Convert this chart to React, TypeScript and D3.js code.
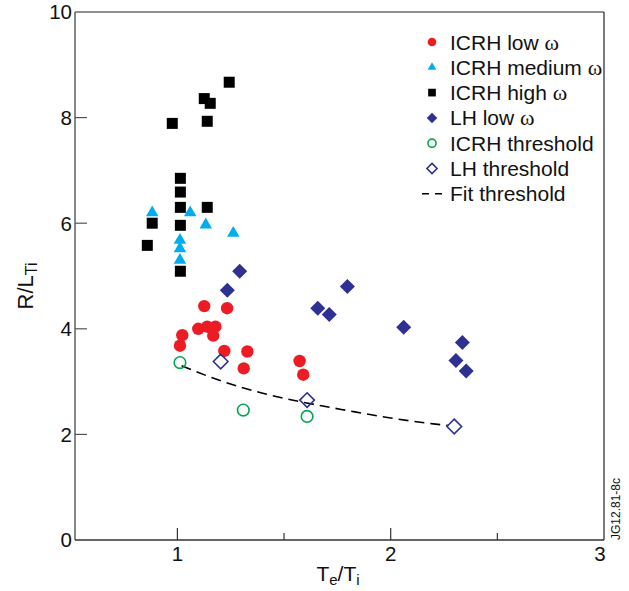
import React from "react";
import * as d3 from "d3";

// ---- data ----
const icrhLowX = [1.126, 1.233, 1.098, 1.14, 1.178, 1.168, 1.023, 1.012, 1.22, 1.328, 1.311, 1.573, 1.59];
const icrhLowY = [4.43, 4.39, 4.0, 4.04, 4.04, 3.87, 3.88, 3.68, 3.58, 3.57, 3.25, 3.39, 3.13];

const icrhMedX = [0.882, 1.06, 1.133, 1.262, 1.012, 1.012, 1.012];
const icrhMedY = [6.2, 6.2, 5.97, 5.81, 5.68, 5.52, 5.3];

const icrhHighX = [1.243, 1.126, 1.154, 0.976, 1.14, 1.014, 1.014, 1.014, 1.14, 0.882, 1.014, 0.859, 1.014];
const icrhHighY = [8.67, 8.36, 8.27, 7.89, 7.93, 6.85, 6.59, 6.3, 6.3, 6.0, 5.96, 5.58, 5.09];

const lhLowX = [1.292, 1.234, 1.797, 1.658, 1.712, 2.061, 2.336, 2.306, 2.354];
const lhLowY = [5.09, 4.73, 4.8, 4.39, 4.27, 4.03, 3.74, 3.4, 3.2];

const icrhThrX = [1.012, 1.309, 1.608];
const icrhThrY = [3.36, 2.46, 2.34];

const lhThrX = [1.203, 1.608, 2.298];
const lhThrY = [3.38, 2.65, 2.15];

const fitX = [1.02, 1.2, 1.4, 1.6, 1.8, 2.0, 2.2, 2.27];
const fitY = [3.3, 3.02, 2.78, 2.6, 2.45, 2.31, 2.2, 2.17];

const xTicks = [1, 2, 3];
const xMinorTicks = [1.5, 2.5];
const yTicks = [0, 2, 4, 6, 8, 10];

const legendLabels = ["ICRH low ", "ICRH medium ", "ICRH high ", "LH low ", "ICRH threshold", "LH threshold", "Fit threshold"];
const legendOmega = [true, true, true, true, false, false, false];

// ---- layout ----
const W = 629;
const H = 591;
const left = 75;
const right = 604;
const top = 12;
const bottom = 540;

const RED = "#ed1c24";
const CYAN = "#00aeef";
const NAVY = "#2e3192";
const GREEN = "#00a651";
const FONT = "'Liberation Sans', Arial, Helvetica, sans-serif";

const zip = (xs: number[], ys: number[]) => xs.map((x, i) => [x, ys[i]] as [number, number]);

const diamondPath = (r: number) => `M0,${-r}L${r},0L0,${r}L${-r},0Z`;
const squarePath = (s: number) => `M${-s / 2},${-s / 2}h${s}v${s}h${-s}Z`;
const trianglePath = (s: number) => {
  const h = (s * Math.sqrt(3)) / 2;
  return `M0,${(-2 * h) / 3}L${s / 2},${h / 3}L${-s / 2},${h / 3}Z`;
};

type Kind = "circle" | "tri" | "square" | "diamond" | "ocircle" | "odiamond";

function Marker({ kind, x, y, scale = 1 }: { kind: Kind; x: number; y: number; scale?: number }) {
  const t = `translate(${x},${y})`;
  switch (kind) {
    case "circle":
      return <circle cx={x} cy={y} r={6.2 * scale} fill={RED} />;
    case "tri":
      return <path transform={t} d={trianglePath(12.5 * scale)} fill={CYAN} />;
    case "square":
      return <path transform={t} d={squarePath(11 * scale)} fill="#000" />;
    case "diamond":
      return <path transform={t} d={diamondPath(7.5 * scale)} fill={NAVY} />;
    case "ocircle":
      return <circle cx={x} cy={y} r={5.8 * scale} fill="none" stroke={GREEN} strokeWidth={1.6} />;
    case "odiamond":
      return <path transform={t} d={diamondPath(7.3 * scale)} fill="none" stroke={NAVY} strokeWidth={1.6} />;
  }
}

export default function App() {
  const x = d3.scaleLinear().domain([0.52, 3]).range([left, right]);
  const y = d3.scaleLinear().domain([0, 10]).range([bottom, top]);

  const fitLine = d3
    .line<[number, number]>()
    .x((d) => x(d[0]))
    .y((d) => y(d[1]))
    .curve(d3.curveMonotoneX);

  const series: { kind: Kind; pts: [number, number][] }[] = [
    { kind: "square", pts: zip(icrhHighX, icrhHighY) },
    { kind: "tri", pts: zip(icrhMedX, icrhMedY) },
    { kind: "circle", pts: zip(icrhLowX, icrhLowY) },
    { kind: "diamond", pts: zip(lhLowX, lhLowY) },
    { kind: "ocircle", pts: zip(icrhThrX, icrhThrY) },
    { kind: "odiamond", pts: zip(lhThrX, lhThrY) },
  ];

  const legendKinds: (Kind | "dash")[] = ["circle", "tri", "square", "diamond", "ocircle", "odiamond", "dash"];
  const legX = 432;
  const legY0 = 42;
  const legDy = 25.3;

  return (
    <svg
      width={W}
      height={H}
      style={{ position: "absolute", left: 0, top: 0, background: "#fff" }}
      fontFamily={FONT}
    >
      <rect width={W} height={H} fill="#fff" />

      {/* fit line */}
      <path
        d={fitLine(zip(fitX, fitY)) || ""}
        fill="none"
        stroke="#000"
        strokeWidth={1.6}
        strokeDasharray="10,6"
      />

      {/* markers */}
      {series.map((s, si) =>
        s.pts.map((p, i) => <Marker key={`${si}-${i}`} kind={s.kind} x={x(p[0])} y={y(p[1])} />)
      )}

      {/* frame */}
      <line x1={left} x2={right} y1={top} y2={top} stroke="#222" strokeWidth={1.2} />
      <line x1={right} x2={right} y1={top} y2={bottom} stroke="#222" strokeWidth={1.2} />
      <line x1={left} x2={left} y1={top} y2={bottom} stroke="#555" strokeWidth={1.4} />
      <line x1={left} x2={right} y1={bottom} y2={bottom} stroke="#333" strokeWidth={1.4} />

      {/* y ticks */}
      {yTicks.map((t) => (
        <g key={`y${t}`}>
          {t > 0 && t < 10 && (
            <line x1={left} x2={left + 12} y1={y(t)} y2={y(t)} stroke="#555" strokeWidth={1.2} />
          )}
          <text x={left - 3} y={y(t)} dy="0.36em" textAnchor="end" fontSize={20.5} fill="#111">
            {t}
          </text>
        </g>
      ))}

      {/* x ticks */}
      {xTicks.map((t) => (
        <g key={`x${t}`}>
          {t < 3 && <line x1={x(t)} x2={x(t)} y1={bottom} y2={bottom - 12} stroke="#333" strokeWidth={1.2} />}
          <text x={x(t) - (t === 3 ? 4 : 0)} y={561} textAnchor="middle" fontSize={20.5} fill="#111">
            {t}
          </text>
        </g>
      ))}
      {xMinorTicks.map((t) => (
        <line key={`xm${t}`} x1={x(t)} x2={x(t)} y1={bottom} y2={bottom - 7} stroke="#333" strokeWidth={1.2} />
      ))}

      {/* axis titles */}
      <text x={338} y={581} textAnchor="middle" fontSize={21} fill="#111">
        T<tspan fontSize={15} dy={4}>e</tspan>
        <tspan dy={-4}>/T</tspan>
        <tspan fontSize={15} dy={4}>i</tspan>
      </text>
      <text transform="translate(33,286) rotate(-90)" textAnchor="middle" fontSize={22} fill="#111">
        R/L<tspan fontSize={16} dy={4}>Ti</tspan>
      </text>

      {/* ID label */}
      <text transform="translate(620,540) rotate(-90)" fontSize={12} fill="#111">
        JG12.81-8c
      </text>

      {/* legend */}
      {legendKinds.map((k, i) => {
        const cy = legY0 + i * legDy;
        return (
          <g key={`leg${i}`}>
            {k === "dash" ? (
              <line x1={legX - 10} x2={legX + 10} y1={cy} y2={cy} stroke="#000" strokeWidth={1.5} strokeDasharray="7,6" />
            ) : (
              <Marker kind={k} x={legX} y={cy} scale={0.7} />
            )}
            <text x={legX + 18} y={cy} dy="0.36em" fontSize={21} fill="#111">
              {legendLabels[i]}
              {legendOmega[i] && (
                <tspan fontFamily="'Liberation Serif', 'Times New Roman', serif" fontSize={22}>
                  ω
                </tspan>
              )}
            </text>
          </g>
        );
      })}
    </svg>
  );
}
